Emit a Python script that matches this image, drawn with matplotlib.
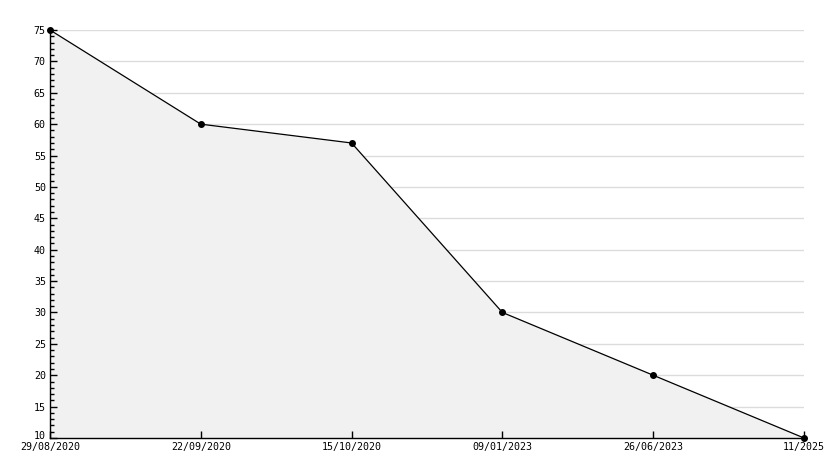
import matplotlib
matplotlib.use("Agg")
import matplotlib.pyplot as plt
import matplotlib.transforms as mtransforms
from matplotlib.ticker import MultipleLocator

labels = ["29/08/2020", "22/09/2020", "15/10/2020", "09/01/2023", "26/06/2023", "11/2025"]
values = [75, 60, 57, 30, 20, 10]

plt.rcParams['font.family'] = ['DejaVu Sans Mono']

fig = plt.figure(figsize=(8.34, 4.68), dpi=100)
ax = fig.add_axes([50/834, 30/468, 754/834, 408/468])
x = list(range(len(values)))
ax.set_xlim(0, len(values) - 1)
ax.set_ylim(10, 75)
ax.yaxis.set_major_locator(MultipleLocator(5))
ax.yaxis.set_minor_locator(MultipleLocator(1))
for yv in ax.get_yticks():
    if 10 < yv <= 75:
        ax.axhline(yv, color="#dcdcdc", linewidth=1, zorder=0.1)
ax.fill_between(x, values, 10, color="#f1f1f1", zorder=0.3, linewidth=0)
ax.plot(x, values, color="black", linewidth=0.9, marker="o", markersize=4, zorder=3, clip_on=False)
ax.set_xticks(x)
ax.set_xticklabels(labels)
ax.set_axisbelow(True)
for s in ["top", "right"]:
    ax.spines[s].set_visible(False)
ax.spines["left"].set_linewidth(1.0)
ax.spines["bottom"].set_linewidth(1.0)
ax.tick_params(axis="both", which="major", direction="in", length=5, width=1, labelsize=7.2, colors="black", pad=3)
ax.tick_params(axis="y", which="minor", direction="in", length=3, width=1)
ax.tick_params(axis="x", pad=3)

fig.canvas.draw()
for lab in ax.get_yticklabels():
    if lab.get_text() == "10":
        lab.set_transform(lab.get_transform() + mtransforms.ScaledTranslation(0, 3/100, fig.dpi_scale_trans))
fig.savefig("out.png", dpi=100)
